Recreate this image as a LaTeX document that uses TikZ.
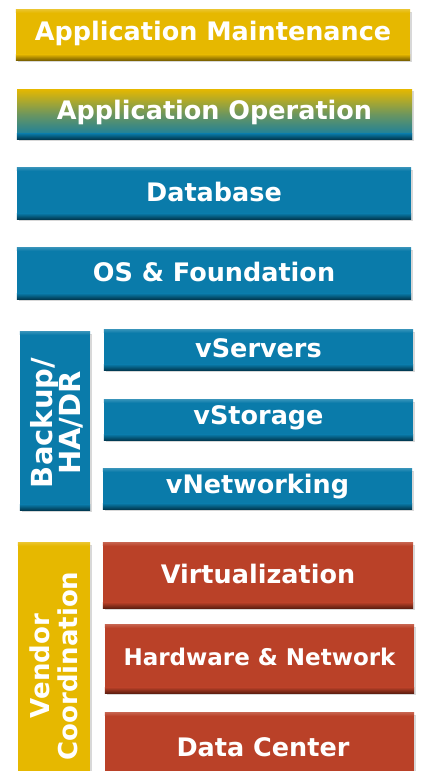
\documentclass[tikz,border=0pt]{standalone}
\usepackage{fontspec}
\setmainfont{DejaVu Sans}
\usetikzlibrary{shadows}
\definecolor{gold}{HTML}{E6B800}
\definecolor{golddark}{HTML}{7A6100}
\definecolor{bluebar}{HTML}{0A7BAA}
\definecolor{bluedark}{HTML}{013A52}
\definecolor{redbar}{HTML}{BA4128}
\definecolor{reddark}{HTML}{5E1E10}
\tikzset{
  slab/.style={draw=none, inner sep=0pt, text=white, font=\bfseries,
    drop shadow={shadow xshift=1.5pt, shadow yshift=-1.5pt, opacity=0.25, fill=black!60}},
  label/.style={text=white, font=\bfseries, inner sep=0pt, align=center},
}
% \slabbox{name}{cx}{cy}{w}{h}{color}{dark}{fontsize}{text}
\newcommand\slabbox[9]{%
  \node[slab, fill=#6, minimum width=#4pt, minimum height=#5pt] (#1) at (#2,#3) {};
  \fill[top color=#6, bottom color=#7] ([yshift=6pt]#1.south west) rectangle (#1.south east);
  \fill[top color=#6!85!white, bottom color=#6] (#1.north west) rectangle ([yshift=-3pt]#1.north east);
  \node[label, font=\bfseries\fontsize{#8}{#8}\selectfont] (#1-t) at ([yshift=2pt]#1.center) {#9};
}
\begin{document}
\begin{tikzpicture}[x=1pt,y=-1pt]
\useasboundingbox[fill=white] (0,0) rectangle (423,771);
\slabbox{am}{213}{35}{394}{50}{gold}{golddark}{25.5}{Application Maintenance}
% gradient bar
\node[slab, minimum width=395pt, minimum height=50pt, top color=gold, bottom color=bluebar, middle color=gold!45!bluebar] (ao) at (214.5,114) {};
\fill[top color=bluebar, bottom color=bluedark] ([yshift=6pt]ao.south west) rectangle (ao.south east);
\node[label, font=\bfseries\fontsize{25.5}{25.5}\selectfont] (ao-t) at ([yshift=2pt]ao.center) {Application Operation};
\slabbox{db}{214}{193.5}{394}{51}{bluebar}{bluedark}{25.5}{Database}
\slabbox{os}{214}{273.5}{394}{51}{bluebar}{bluedark}{25.5}{OS \& Foundation}
% Backup group
\slabbox{bk}{55}{421}{70}{178}{bluebar}{bluedark}{22}{}
\node[label, rotate=90, font=\bfseries\fontsize{29}{26}\selectfont] (bk-t) at (57,423) {Backup/\\HA/DR};
\slabbox{vs}{258.5}{350}{309}{40}{bluebar}{bluedark}{25.5}{vServers}
\slabbox{vst}{258.5}{420}{309}{40}{bluebar}{bluedark}{25.5}{vStorage}
\slabbox{vn}{257.5}{489}{309}{40}{bluebar}{bluedark}{25.5}{vNetworking}
% Vendor group
\node[slab, fill=gold, minimum width=72pt, minimum height=240pt] (vc) at (54,663) {};
\fill[top color=gold!85!white, bottom color=gold] (vc.north west) rectangle ([yshift=-3pt]vc.north east);
\node[label, rotate=90, font=\bfseries\fontsize{26}{28}\selectfont] (vc-t) at (54,666) {Vendor\\Coordination};
\slabbox{vi}{258}{575.5}{310}{65}{redbar}{reddark}{25.5}{Virtualization}
\slabbox{hw}{259.5}{659}{309}{68}{redbar}{reddark}{23}{Hardware \& Network}
\node[slab, fill=redbar, minimum width=309pt, minimum height=80pt] (dc) at (259.5,753) {};
\fill[top color=redbar!85!white, bottom color=redbar] (dc.north west) rectangle ([yshift=-3pt]dc.north east);
\node[label, font=\bfseries\fontsize{25.5}{25.5}\selectfont] (dc-t) at (263,747) {Data Center};
\end{tikzpicture}
\end{document}
